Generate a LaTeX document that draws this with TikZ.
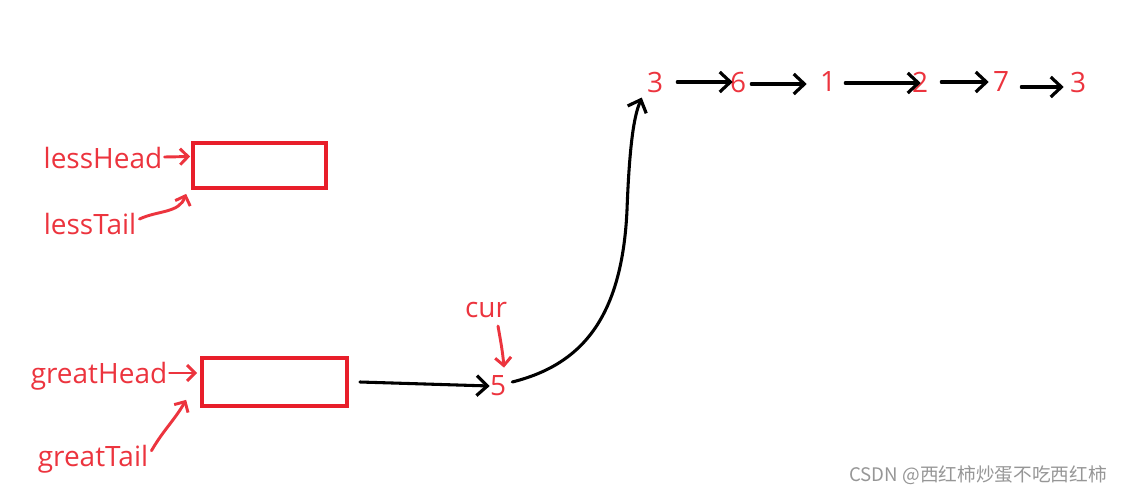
\documentclass[tikz,border=0pt]{standalone}
\usepackage{fontspec}
\setmainfont{Open Sans}
\newfontfamily\cjk{Noto Sans CJK SC}
\usepackage{tikz}
\usetikzlibrary{positioning, calc, arrows.meta}

\definecolor{inkred}{RGB}{236,52,62}
\definecolor{boxred}{RGB}{232,30,42}
\definecolor{markgray}{RGB}{150,150,150}

\tikzset{
    lbl/.style={text=inkred, inner sep=0pt, font=\fontsize{21}{24}\selectfont},
    num/.style={text=inkred, inner sep=0pt, font=\fontsize{21}{24}\selectfont},
    listbox/.style={draw=boxred, line width=2.8pt, inner sep=0pt},
    redarr/.style={draw=inkred, line width=2.2pt, line cap=round,
        -{Straight Barb[length=6pt, width=12pt, line width=2.2pt]}},
    blkarr/.style={draw=black, line width=2.3pt, line cap=round,
        -{Straight Barb[length=8pt, width=15pt, line width=2.4pt]}}
}

\begin{document}
\begin{tikzpicture}[x=0.75pt, y=-0.75pt]
        \useasboundingbox (0,0) rectangle (1121,496);

        % the two dummy heads
        \node[listbox, minimum width=99.75pt, minimum height=33.75pt] (lessBox) at (259.5,165.5) {};
        \node[listbox, minimum width=108.75pt, minimum height=36pt] (greatBox) at (274.5,382) {};

        % pointer names
        \node[lbl] (lessHead)  at (103,158) {lessHead};
        \node[lbl] (lessTail)  at (90,224)  {lessTail};
        \node[lbl] (greatHead) at (99,376)  {greatHead};
        \node[lbl] (greatTail) at (93,459)  {greatTail};
        \node[lbl] (cur)       at (486,310) {cur};

        % the list
        \node[num] (n5) at (498,386) {5};
        \node[num] (a1) at (655,82)  {3};
        \node[num] (a2) at (738,82)  {6};
        \node[num] (a3) at (828,82)  {1};
        \node[num] (a4) at (920,82)  {2};
        \node[num] (a5) at (1001,82) {7};
        \node[num] (a6) at (1078,82) {3};

        \coordinate (bend) at (627,210);

        % red pointers
        \draw[redarr] ($(lessHead.east)+(2,-1)$) -- ($(lessBox.west)+(-1,-9)$);
        \draw[redarr] ($(lessTail.east)+(3,-5)$) to[out=25, in=-110] ($(lessBox.south west)+(-5,4)$);
        \draw[redarr] ($(greatHead.east)+(2,-3)$) -- ($(greatBox.west)+(-3,-9)$);
        \draw[redarr] ($(greatTail.north east)+(3,6)$) to[out=60, in=-120] ($(greatBox.south west)+(-14,-8)$);
        \draw[redarr] ($(cur.south)+(12,8)$) to[out=-80, in=95] ($(n5.north)+(6,-8)$);

        % black links
        \draw[blkarr] ($(greatBox.east)+(11,0)$) -- (n5.west);
        \draw[blkarr] ($(n5.east)+(6,-4)$) .. controls (580,365) and (622,320) .. (bend)
            .. controls (630,130) and (636,112) .. ($(a1.south west)+(-5,5)$);
        \draw[blkarr] ($(a1.east)+(14,0)$) -- ($(a2.west)+(3,0)$);
        \draw[blkarr] ($(a2.east)+(5,2)$) -- ($(a3.west)+(-13,2)$);
        \draw[blkarr] ($(a3.east)+(9,1)$) -- ($(a4.west)+(9,1)$);
        \draw[blkarr] ($(a4.east)+(13,0)$) -- ($(a5.west)+(-4,0)$);
        \draw[blkarr] ($(a5.east)+(12,5)$) -- ($(a6.west)+(-6,5)$);

        % watermark
        \node[text=markgray, inner sep=0pt, font=\cjk\fontsize{14}{16}\selectfont, anchor=east] (mark) at (1107,475) {CSDN @西红柿炒蛋不吃西红柿};
\end{tikzpicture}
\end{document}
